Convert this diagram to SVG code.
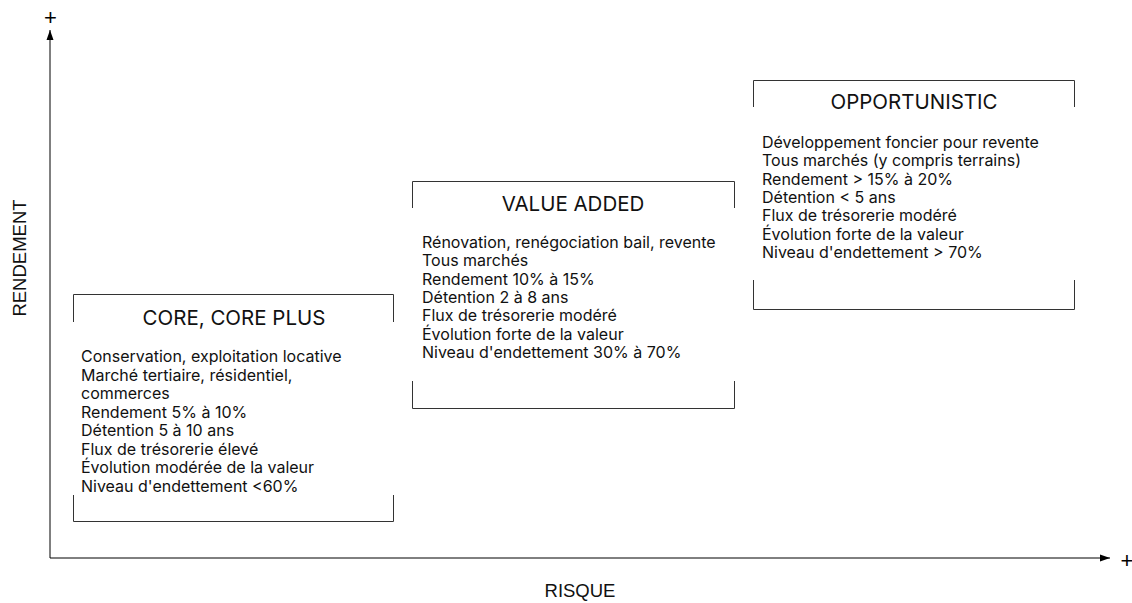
<svg xmlns="http://www.w3.org/2000/svg" width="1132" height="603" viewBox="0 0 1132 603">
<defs>
<marker id="arr" viewBox="0 0 10 10" refX="10" refY="5" markerWidth="10" markerHeight="10" markerUnits="userSpaceOnUse" orient="auto">
<path d="M0,1.5 L10,5 L0,8.5 Z" fill="#000"/>
</marker>
<style>
.frame{fill:none;stroke:#333;stroke-width:1}
.title{font-family:Inter,"Open Sans",sans-serif;font-size:20.5px;fill:#111;text-anchor:middle}
.body{font-family:Inter,"Open Sans",sans-serif;font-size:16px;fill:#111}
.axis{font-family:"Liberation Sans",Arial,sans-serif;font-size:18.5px;fill:#111;text-anchor:middle}
.plus{font-family:"Liberation Sans",Arial,sans-serif;font-size:22px;fill:#000;text-anchor:middle}
</style>
</defs>
<rect width="1132" height="603" fill="#fff"/>
<g id="connectors">
<line x1="50" y1="558" x2="50" y2="30" stroke="#000" stroke-width="1" marker-end="url(#arr)"/>
<line x1="50" y1="558" x2="1110" y2="558" stroke="#000" stroke-width="1" marker-end="url(#arr)"/>
</g>
<g id="axes-labels">
<text class="plus" x="50.5" y="24.5">+</text>
<text class="plus" x="1127" y="568">+</text>
<text class="axis" transform="translate(25.5,258) rotate(-90)">RENDEMENT</text>
<text class="axis" x="580" y="597">RISQUE</text>
</g>
<g id="core">
<path class="frame" d="M73.5,322 V294.5 H393.5 V322 M73.5,495 V521.5 H393.5 V495"/>
<text class="title" x="234" y="325">CORE, CORE PLUS</text>
<text class="body" x="81" y="362">Conservation, exploitation locative</text>
<text class="body" x="81" y="380.5">Marché tertiaire, résidentiel,</text>
<text class="body" x="81" y="399">commerces</text>
<text class="body" x="81" y="417.5">Rendement 5% à 10%</text>
<text class="body" x="81" y="436">Détention 5 à 10 ans</text>
<text class="body" x="81" y="454.5">Flux de trésorerie élevé</text>
<text class="body" x="81" y="473">Évolution modérée de la valeur</text>
<text class="body" x="81" y="491.5">Niveau d'endettement &lt;60%</text>
</g>
<g id="value-added">
<path class="frame" d="M412.5,208 V181.5 H734.5 V208 M412.5,381 V408.5 H734.5 V381"/>
<text class="title" x="573" y="211">VALUE ADDED</text>
<text class="body" x="422" y="248">Rénovation, renégociation bail, revente</text>
<text class="body" x="422" y="266.3">Tous marchés</text>
<text class="body" x="422" y="284.6">Rendement 10% à 15%</text>
<text class="body" x="422" y="302.9">Détention 2 à 8 ans</text>
<text class="body" x="422" y="321.2">Flux de trésorerie modéré</text>
<text class="body" x="422" y="339.5">Évolution forte de la valeur</text>
<text class="body" x="422" y="357.8">Niveau d'endettement 30% à 70%</text>
</g>
<g id="opportunistic">
<path class="frame" d="M753.5,107 V80.5 H1074.5 V107 M753.5,280 V309.5 H1074.5 V280"/>
<text class="title" x="914" y="109">OPPORTUNISTIC</text>
<text class="body" x="762" y="148">Développement foncier pour revente</text>
<text class="body" x="762" y="166.3">Tous marchés (y compris terrains)</text>
<text class="body" x="762" y="184.6">Rendement &gt; 15% à 20%</text>
<text class="body" x="762" y="202.9">Détention &lt; 5 ans</text>
<text class="body" x="762" y="221.2">Flux de trésorerie modéré</text>
<text class="body" x="762" y="239.5">Évolution forte de la valeur</text>
<text class="body" x="762" y="257.8">Niveau d'endettement &gt; 70%</text>
</g>
</svg>
